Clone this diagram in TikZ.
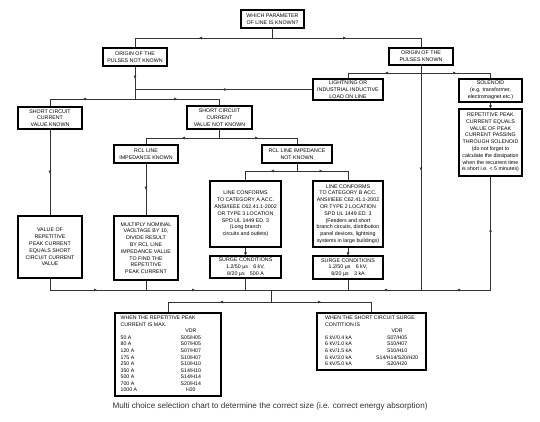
\documentclass[tikz,border=0pt]{standalone}
\usepackage{fontspec}
\setmainfont{Liberation Sans}
\usetikzlibrary{arrows.meta, decorations.markings}

\tikzset{
    block/.style={draw, line width=1.1pt, align=center, inner sep=1pt, font=\fontsize{5.3}{6.8}\selectfont},
    boxsize/.style 2 args={minimum width=#1pt, minimum height=#2pt},
    tabletext/.style={anchor=north west, inner sep=0pt, font=\fontsize{5.2}{6.55}\selectfont},
    link/.style={draw=black!80, line width=0.6pt},
    flow/.style={link, postaction={decorate}, decoration={markings, mark=at position #1pt with {\arrow{Triangle[length=3pt, width=2.6pt]}}}},
    into/.style={link, -{Triangle[length=3pt, width=2.6pt]}},
}

\begin{document}
\begin{tikzpicture}[x=1pt, y=-1pt]
    \useasboundingbox (0,0) rectangle (540,422);

    \node[block, boxsize={63}{18}] (param) at (272.5,19) {WHICH PARAMETER\\OF LINE IS KNOWN?};
    \node[block, boxsize={64}{18}] (notknown) at (135,57) {ORIGIN OF THE\\PULSES NOT KNOWN};
    \node[block, boxsize={64}{17}] (known) at (421,56.5) {ORIGIN OF THE\\PULSES KNOWN};
    \node[block, boxsize={70}{21}] (lightning) at (348,89.5) {LIGHTNING OR\\INDUSTRIAL INDUCTIVE\\LOAD ON LINE};
    \node[block, boxsize={63}{23}] (solenoid) at (490.5,90.5) {SOLENOID\\(e.g. transformer,\\electromagnet etc.)};
    \node[block, boxsize={63}{67}] (solpeak) at (490.5,142.5) {REPETITIVE PEAK\\CURRENT EQUALS\\VALUE OF PEAK\\CURRENT PASSING\\THROUGH SOLENOID\\(do not forget to\\calculate the dissipation\\when the recurrent time\\is short i.e. < 5 minutes)};
    \node[block, boxsize={64}{22}] (sck) at (50,118) {SHORT CIRCUIT\\CURRENT\\VALUE KNOWN};
    \node[block, boxsize={65}{23}] (scnk) at (219.5,117.5) {SHORT CIRCUIT\\CURRENT\\VALUE NOT KNOWN};
    \node[block, boxsize={64}{18}] (rclk) at (146,154) {RCL LINE\\IMPEDANCE KNOWN};
    \node[block, boxsize={70}{18}] (rclnk) at (297,154) {RCL LINE IMPEDANCE\\NOT KNOWN};
    \node[block, boxsize={64}{62}] (scpeak) at (50,247) {VALUE OF\\REPETITIVE\\PEAK CURRENT\\EQUALS SHORT\\CIRCUIT CURRENT\\VALUE};
    \node[block, boxsize={64}{64}] (multiply) at (146,248) {MULTIPLY NOMINAL\\VAOLTAGE BY 10,\\DIVIDE RESULT\\BY RCL LINE\\IMPEDANCE VALUE\\TO FIND THE\\REPETITIVE\\PEAK CURRENT};
    \node[block, boxsize={71}{66}] (catA) at (245.5,214) {LINE CONFORMS\\TO CATEGORY A ACC.\\ANSI/IEEE C62.41.1-2002\\OR TYPE 3 LOCATION\\SPD UL 1449 ED. 3\\(Long branch\\circuits and outlets)};
    \node[block, boxsize={70}{66}] (catB) at (348,214) {LINE CONFORMS\\TO CATEGORY B ACC.\\ANSI/IEEE C62.41.1-2002\\OR TYPE 2 LOCATION\\SPD UL 1449 ED. 3\\(Feeders and short\\branch circuits, distribution\\panel devices, lightning\\systems in large buildings)};
    \node[block, boxsize={71}{22}] (surgeA) at (245.5,267) {SURGE CONDITIONS\\1.2/50 µs\quad 6 kV,\\8/20 µs\quad 500 A};
    \node[block, boxsize={70}{23}] (surgeB) at (348,267.5) {SURGE CONDITIONS\\1.2/50 µs\quad 6 kV,\\8/20 µs\quad 3 kA};

    \node[block, boxsize={106}{83}] (maxbox) at (168,354.5) {};
    \node[tabletext] (maxtab) at (120.5,315) {%
        \begin{tabular}{@{}p{60pt}@{}c@{}}
            \multicolumn{2}{@{}l@{}}{WHEN THE REPETITIVE PEAK}\\
            \multicolumn{2}{@{}l@{}}{CURRENT IS MAX.}\\
            & VDR\\
            50 A & S05/H05\\
            80 A & S07/H05\\
            120 A & S07/H07\\
            175 A & S10/H07\\
            250 A & S10/H10\\
            350 A & S14/H10\\
            500 A & S14/H14\\
            700 A & S20/H14\\
            1000 A & H20
        \end{tabular}};
    \node[block, boxsize={109}{57}] (surgebox) at (371.5,341.5) {};
    \node[tabletext] (surgetab) at (325,315) {%
        \begin{tabular}{@{}p{51pt}@{}c@{}}
            \multicolumn{2}{@{}l@{}}{WHEN THE SHORT CIRCUIT SURGE}\\
            \multicolumn{2}{@{}l@{}}{CONTITION IS}\\
            & VDR\\
            6 kV/0.4 kA & S07/H05\\
            6 kV/1.0 kA & S10/H07\\
            6 kV/1.5 kA & S10/H10\\
            6 kV/3.0 kA & S14/H14/S20/H20\\
            6 kV/5.0 kA & S20/H20
        \end{tabular}};

    \node[font=\fontsize{8.1}{9.5}\selectfont, text=black!80] (caption) at (270,406.5) {Multi choice selection chart to determine the correct size (i.e. correct energy absorption)};

    \coordinate (split) at (272.5,38);
    \coordinate (nkfork) at (135,99);
    \coordinate (nkjoin) at (135,89.5);
    \coordinate (kfork) at (421,73);
    \coordinate (kjoin) at (421,290);
    \coordinate (soljoin) at (490.5,290);
    \coordinate (scjoin) at (50,290);
    \coordinate (muljoin) at (146,290);
    \coordinate (ajoin) at (245.5,290);
    \coordinate (bjoin) at (348,290);
    \coordinate (collect) at (271,290);
    \coordinate (result) at (271,302);
    \coordinate (scnkfork) at (219.5,138);
    \coordinate (rclfork) at (297,171);

    \draw[link] (param) -- (split);
    \draw[flow=73.5] (split) -| (notknown);
    \draw[flow=73.5] (split) -| (known);

    \draw[flow=12] (notknown) -- (nkfork);
    \draw[flow=90] (lightning) -- (nkjoin);
    \draw[flow=52] (nkfork) -| (sck);
    \draw[flow=42] (nkfork) -| (scnk);

    \draw[flow=105] (known) -- (kjoin);
    \draw[flow=36] (kfork) -| (lightning);
    \draw[flow=35] (kfork) -| (solenoid);
    \draw[into] (solenoid) -- (solpeak);
    \draw[flow=57] (solpeak) -- (soljoin);

    \draw[flow=44] (sck) -- (scpeak);
    \draw[link] (scnk) -- (scnkfork);
    \draw[flow=37.5] (scnkfork) -| (rclk);
    \draw[flow=38.5] (scnkfork) -| (rclnk);
    \draw[flow=26] (rclk) -- (multiply);
    \draw[link] (rclnk) -- (rclfork);
    \draw[flow=26] (rclfork) -| (catA);
    \draw[flow=25.5] (rclfork) -| (catB);
    \draw[into] (catA) -- (surgeA);
    \draw[into] (catB) -- (surgeB);

    \draw[link] (scpeak) -- (scjoin);
    \draw[link] (multiply) -- (muljoin);
    \draw[link] (surgeA) -- (ajoin);
    \draw[link] (surgeB) -- (bjoin);
    \draw[flow=47] (scjoin) -- (muljoin);
    \draw[flow=49] (muljoin) -- (collect);
    \draw[flow=33.5] (soljoin) -- (kjoin);
    \draw[flow=37] (kjoin) -- (collect);

    \draw[link] (collect) -- (result);
    \draw[flow=51] (result) -| (maxbox);
    \draw[flow=50] (result) -| (surgebox);
\end{tikzpicture}
\end{document}
